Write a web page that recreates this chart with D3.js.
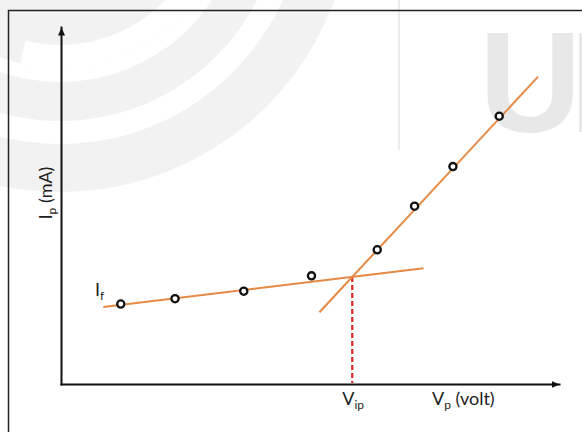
<!DOCTYPE html>
<html>
<head>
<meta charset="utf-8">
<script src="https://cdn.jsdelivr.net/npm/d3@7"></script>
<style>
  html, body { margin: 0; padding: 0; background: #fff; }
  svg { display: block; }
  text { font-family: Lato, "Open Sans", sans-serif; fill: #222; }
</style>
</head>
<body>
<svg id="chart" width="582" height="432"></svg>
<script>
// Measured plate current versus plate voltage (arbitrary units, 0-100 on each axis)
const plateVoltage = [12.0, 22.9, 36.7, 50.3, 63.5, 71.0, 78.7, 88.0];
const plateCurrent = [22.4, 23.9, 26.0, 30.3, 37.6, 49.8, 60.9, 75.0];

// Straight-line fits: the slow-rising part (I_f) and the steep part
const lowFitVoltage  = [8.5, 72.8];
const lowFitCurrent  = [21.6, 32.4];
const highFitVoltage = [51.9, 95.8];
const highFitCurrent = [20.1, 86.1];

// Axis and annotation labels
const yLabel = ["I", "p", " (mA)"];
const xLabel = ["V", "p", " (volt)"];
const kneeLabel = ["V", "ip"];
const fitLabel = ["I", "f"];
const badgeText = "UI";

const W = 582, H = 432;
const svg = d3.select("#chart");

const x = d3.scaleLinear().domain([0, 100]).range([61, 559]);
const y = d3.scaleLinear().domain([0, 100]).range([384, 27]);

// ---- faint background badge ----
const bg = svg.append("g");
const arcs = bg.append("g").attr("transform", "translate(60,-100)");
const arc = d3.arc();
arcs.append("circle").attr("r", 292).attr("fill", "#f2f2f2");
[[221, 244, 0, 2 * Math.PI], [168, 182, 0, 2 * Math.PI], [145, 168, Math.PI / 2, Math.PI + 0.24]]
  .forEach(([r0, r1, a0, a1]) => {
    arcs.append("path")
      .attr("d", arc({innerRadius: r0, outerRadius: r1, startAngle: a0, endAngle: a1}))
      .attr("fill", "#fff");
  });
bg.append("line").attr("x1", 399).attr("x2", 399).attr("y1", 0).attr("y2", 150)
  .attr("stroke", "#e4e4e4").attr("stroke-width", 1.5);
bg.append("text").attr("x", 479).attr("y", 132)
  .style("font-family", "'Liberation Sans', Arial, sans-serif")
  .style("font-weight", "bold").style("font-size", "142px")
  .style("letter-spacing", "-12px").style("fill", "#e8e8e8")
  .text(badgeText);

// ---- frame ----
svg.append("path").attr("d", `M8.5,${H}V10.5H${W}`)
  .attr("fill", "none").attr("stroke", "#222").attr("stroke-width", 1.5);

// ---- arrow marker ----
svg.append("defs").append("marker")
  .attr("id", "arrow").attr("markerUnits", "userSpaceOnUse")
  .attr("markerWidth", 10).attr("markerHeight", 8)
  .attr("refX", 8).attr("refY", 3.5).attr("orient", "auto")
  .append("path").attr("d", "M0,0L8,3.5L0,7Z").attr("fill", "#111");

// ---- axes ----
const xAxis = svg.append("g").attr("transform", `translate(0,${y(0)})`)
  .call(d3.axisBottom(x).tickValues([]).tickSizeOuter(0));
const yAxis = svg.append("g").attr("transform", `translate(${x(0)},0)`)
  .call(d3.axisLeft(y).tickValues([]).tickSizeOuter(0));
[xAxis, yAxis].forEach(g => g.select(".domain")
  .attr("stroke", "#111").attr("stroke-width", 2)
  .attr("stroke-linecap", "square").attr("marker-end", "url(#arrow)"));

// ---- fitted lines ----
const line = d3.line().x(d => x(d[0])).y(d => y(d[1]));
const lowFit = d3.zip(lowFitVoltage, lowFitCurrent);
const highFit = d3.zip(highFitVoltage, highFitCurrent);

// knee: where the two fits cross
const slope = f => (f[1][1] - f[0][1]) / (f[1][0] - f[0][0]);
const m1 = slope(lowFit), m2 = slope(highFit);
const kneeV = (highFit[0][1] - lowFit[0][1] + m1 * lowFit[0][0] - m2 * highFit[0][0]) / (m1 - m2);
const kneeI = lowFit[0][1] + m1 * (kneeV - lowFit[0][0]);

svg.append("line")
  .attr("x1", x(kneeV)).attr("x2", x(kneeV))
  .attr("y1", y(kneeI)).attr("y2", y(0) - 1)
  .attr("stroke", "#d42a2a").attr("stroke-width", 2.2)
  .attr("stroke-dasharray", "5,3");

[lowFit, highFit].forEach(f => svg.append("path").attr("d", line(f))
  .attr("fill", "none").attr("stroke", "#e58a45").attr("stroke-width", 2));

// ---- measured points ----
svg.append("g").selectAll("circle")
  .data(d3.zip(plateVoltage, plateCurrent))
  .join("circle")
  .attr("cx", d => x(d[0])).attr("cy", d => y(d[1])).attr("r", 3.6)
  .attr("fill", "#fff").attr("stroke", "#111").attr("stroke-width", 2.3);

// ---- labels ----
function subLabel(sel, parts, size) {
  sel.append("tspan").style("font-size", size + "px").text(parts[0]);
  sel.append("tspan").style("font-size", Math.round(size * 0.68) + "px")
    .attr("dy", 4).text(parts[1]);
  if (parts[2]) sel.append("tspan").style("font-size", size + "px")
    .attr("dy", -4).text(parts[2]);
}

subLabel(svg.append("text").attr("x", 432).attr("y", 405), xLabel, 18);
subLabel(svg.append("text").attr("x", x(kneeV) - 10).attr("y", 405), kneeLabel, 18);
subLabel(svg.append("text").attr("x", 95).attr("y", 296), fitLabel, 18);
subLabel(svg.append("text")
  .attr("transform", "translate(52,193) rotate(-90)")
  .attr("text-anchor", "middle"), yLabel, 18);
</script>
</body>
</html>
